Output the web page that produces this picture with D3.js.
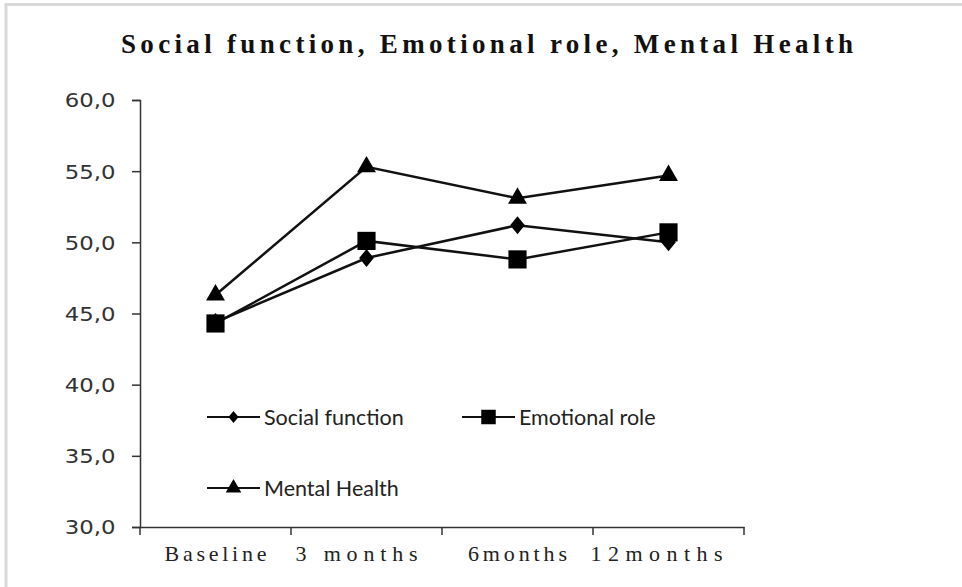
<!DOCTYPE html>
<html><head><meta charset="utf-8">
<script src="https://cdn.jsdelivr.net/npm/d3@7"></script>
<style>body{margin:0;background:#fff}svg{display:block}</style>
</head><body>
<script>
const categories = ["Baseline", "3 months", "6months", "12months"];
const socialFunction = [44.4, 48.9, 51.2, 50.0];
const emotionalRole = [44.3, 50.1, 48.8, 50.7];
const mentalHealth = [46.3, 55.3, 53.1, 54.7];
const yTicks = [30, 35, 40, 45, 50, 55, 60];
const yTickLabels = ["30,0", "35,0", "40,0", "45,0", "50,0", "55,0", "60,0"];
const seriesNames = ["Social function", "Emotional role", "Mental Health"];
const titleText = "Social function, Emotional role, Mental Health";

(function () {
const W = 962, H = 587;
const svg = d3.select("body").append("svg").attr("width", W).attr("height", H);

// outer frame
svg.append("rect").attr("x", 6).attr("y", 4.5).attr("width", 1000).attr("height", 1000)
  .attr("fill", "none").attr("stroke", "#d9d9d9").attr("stroke-width", 3);

const pLeft = 140, pRight = 744, pTop = 100, pBottom = 527;
const x = d3.scaleBand().domain(categories).range([pLeft, pRight]).padding(0);
const y = d3.scaleLinear().domain([30, 60]).range([pBottom, pTop]);

// title
svg.append("text").attr("x", 487).attr("y", 53).attr("text-anchor", "middle")
  .attr("font-family", "'Liberation Serif','Times New Roman',serif").attr("font-weight", "bold")
  .attr("font-size", 27).attr("fill", "#111")
  .attr("textLength", 732).attr("lengthAdjust", "spacing")
  .text(titleText);

// y axis
const yAxis = svg.append("g").attr("transform", `translate(${pLeft},0)`)
  .call(d3.axisLeft(y).tickValues(yTicks).tickSize(8).tickFormat((d, i) => yTickLabels[i]));
yAxis.select(".domain").attr("stroke", "#333").attr("stroke-width", 1.5);
yAxis.selectAll(".tick line").attr("stroke", "#333").attr("stroke-width", 1.5);
yAxis.selectAll(".tick text").attr("x", -20.5).attr("dy", "0.36em")
  .attr("font-family", "'DejaVu Sans',Verdana,sans-serif").attr("font-size", 19).attr("fill", "#333")
  .attr("transform", "scale(1.2,1)");

// x axis
const xAxis = svg.append("g").attr("transform", `translate(0,${pBottom})`)
  .call(d3.axisBottom(x).tickSize(0).tickFormat(""));
xAxis.select(".domain").attr("stroke", "#333").attr("stroke-width", 1.5);
const xEdges = [pLeft].concat(categories.map(c => x(c) + x.bandwidth()));
svg.append("g").selectAll("line").data(xEdges).join("line")
  .attr("x1", d => d).attr("x2", d => d).attr("y1", pBottom).attr("y2", pBottom + 8)
  .attr("stroke", "#333").attr("stroke-width", 1.5);
const xLabelWidths = [102, 122, 99, 132];
const xLabelOffsets = [0, -10, 0, -12];
svg.append("g").selectAll("text").data(categories).join("text")
  .attr("x", (d, i) => x(d) + x.bandwidth() / 2 + xLabelOffsets[i]).attr("y", 561)
  .attr("text-anchor", "middle")
  .attr("font-family", "'Liberation Serif','Times New Roman',serif").attr("font-size", 22).attr("fill", "#222")
  .attr("textLength", (d, i) => xLabelWidths[i]).attr("lengthAdjust", "spacing")
  .text(d => d);

const cx = c => x(c) + x.bandwidth() / 2;
// diamond drawn as a rotated square, squeezed horizontally
const series = [
  { name: seriesNames[0], values: socialFunction, sym: d3.symbolSquare, size: 160, lsize: 75, tf: "scale(0.82,1) rotate(45)" },
  { name: seriesNames[1], values: emotionalRole, sym: d3.symbolSquare, size: 330, lsize: 210, tf: "" },
  { name: seriesNames[2], values: mentalHealth, sym: d3.symbolTriangle, size: 155, lsize: 105, tf: "" }
];
const line = d3.line().x((d, i) => cx(categories[i])).y(d => y(d));

series.forEach(s => {
  svg.append("path").datum(s.values).attr("d", line)
    .attr("fill", "none").attr("stroke", "#111").attr("stroke-width", 2.5);
});
series.forEach(s => {
  svg.append("g").selectAll("path").data(s.values).join("path")
    .attr("d", d3.symbol().type(s.sym).size(s.size))
    .attr("transform", (d, i) => `translate(${cx(categories[i])},${y(d)}) ${s.tf}`)
    .attr("fill", "#000");
});

// legend
const legendPos = [[207, 417], [462, 417], [207, 488]];
series.forEach((s, i) => {
  const [lx, ly] = legendPos[i];
  const g = svg.append("g").attr("transform", `translate(${lx},${ly})`);
  g.append("line").attr("x1", 0).attr("x2", 53).attr("y1", 0).attr("y2", 0)
    .attr("stroke", "#111").attr("stroke-width", 2);
  g.append("path").attr("d", d3.symbol().type(s.sym).size(s.lsize)())
    .attr("transform", `translate(26.5,0) ${s.tf}`).attr("fill", "#000");
  g.append("text").attr("x", 57).attr("y", 0).attr("dy", "0.35em")
    .attr("font-family", "Lato,'Open Sans',sans-serif").attr("font-size", 21.5).attr("fill", "#222")
    .text(s.name);
});
})();
</script>
</body></html>
